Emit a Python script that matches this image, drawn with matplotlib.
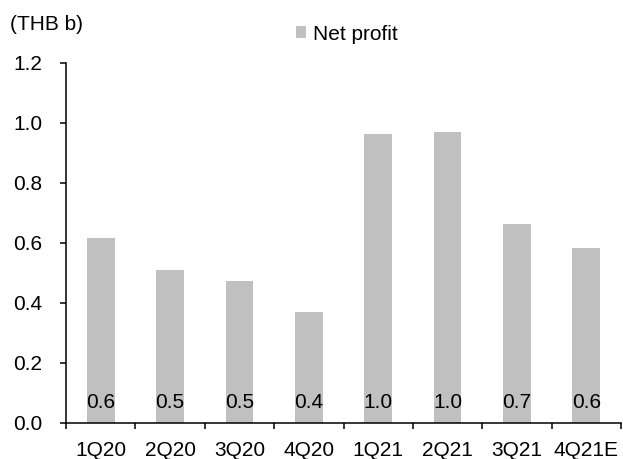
import matplotlib
matplotlib.use("Agg")
import matplotlib.pyplot as plt
import numpy as np
from matplotlib.patches import Patch

categories = ["1Q20", "2Q20", "3Q20", "4Q20", "1Q21", "2Q21", "3Q21", "4Q21E"]
net_profit = [0.617, 0.511, 0.472, 0.371, 0.964, 0.971, 0.663, 0.583]
yticks = [0.0, 0.2, 0.4, 0.6, 0.8, 1.0, 1.2]

plt.rcParams['font.family'] = ['Liberation Sans', 'DejaVu Sans']
FS = 15
bar_color = "#C0C0C0"

fig = plt.figure(figsize=(6.23, 4.59), dpi=100)
ax = fig.add_axes([66/623, 1 - 423/459, (621 - 66)/623, (423 - 63)/459])

x = np.arange(len(categories))
ax.bar(x, net_profit, width=0.4, color=bar_color, zorder=2)

for xi, v in zip(x, net_profit):
    ax.text(xi, 0.07, f"{v:.1f}", ha="center", va="center", fontsize=FS, color="#000000", zorder=3)

ax.set_xlim(-0.5, len(categories) - 0.5)
ax.set_ylim(0, 1.2)
ax.set_yticks(yticks)
ax.set_yticklabels([f"{t:.1f}" for t in yticks], fontsize=FS)

ax.set_xticks(x)
ax.set_xticklabels(categories, fontsize=FS)
ax.set_xticks(np.arange(-0.5, len(categories), 1.0), minor=True)
ax.tick_params(axis="x", which="major", length=0, pad=13)
ax.tick_params(axis="x", which="minor", length=4, width=1.1, direction="out")
ax.tick_params(axis="y", length=4, width=1.1, direction="out", pad=13)

for s in ["top", "right"]:
    ax.spines[s].set_visible(False)
for s in ["left", "bottom"]:
    ax.spines[s].set_linewidth(1.1)

fig.text(10/623, 1 - 25/459, "(THB b)", fontsize=FS, ha="left", va="center")

handle = Patch(facecolor=bar_color, edgecolor="none")
fig.legend([handle], ["Net profit"], loc="center left",
           bbox_to_anchor=(296/623, 1 - 34/459), frameon=False,
           fontsize=FS, borderpad=0, borderaxespad=0,
           handlelength=0.5, handleheight=0.5, handletextpad=0.3)

fig.savefig("out.png", dpi=100)
